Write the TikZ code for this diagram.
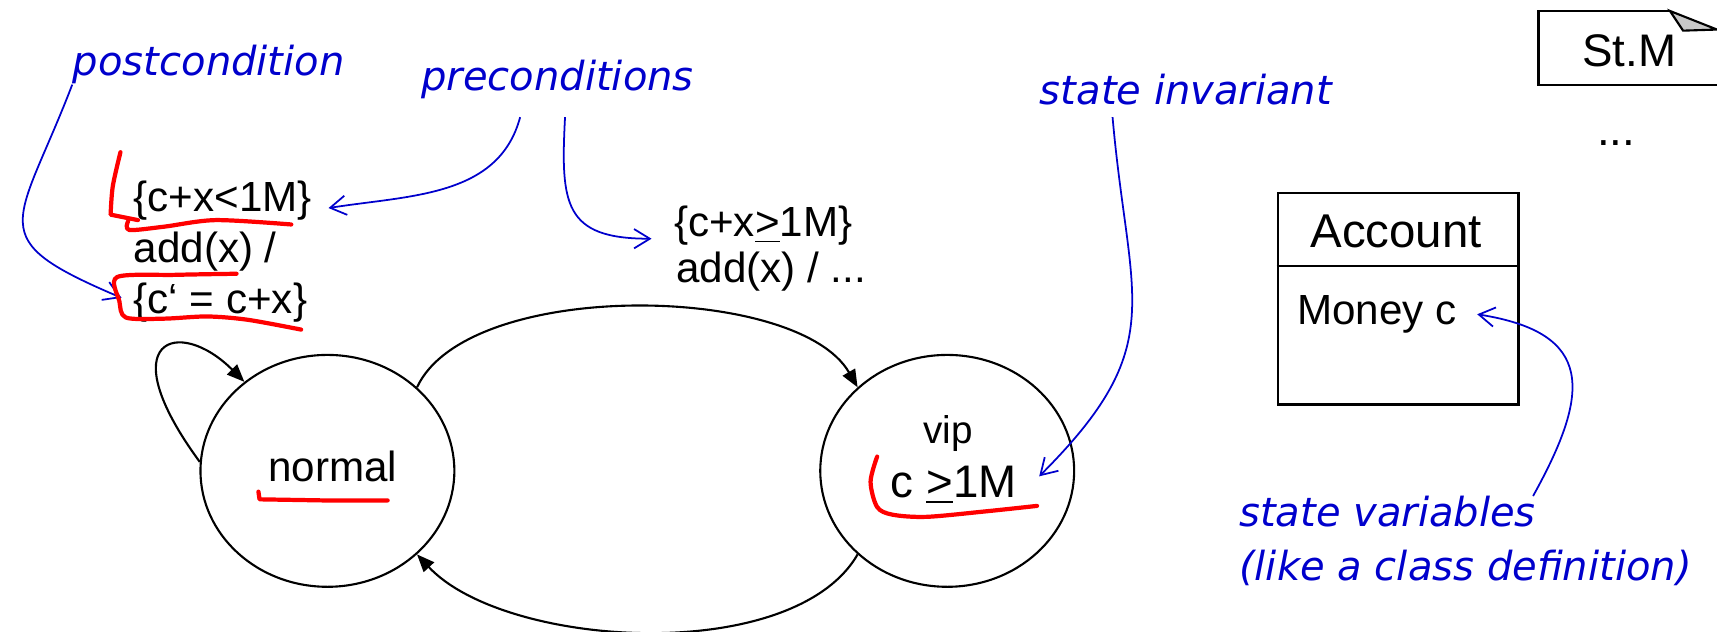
\documentclass[tikz,border=0pt]{standalone}
\usepackage{fontspec}
\setmainfont{Liberation Sans}
\newfontfamily\notefont{DejaVu Sans}
\usetikzlibrary{shapes.geometric, arrows.meta}
\definecolor{note-blue}{RGB}{0,0,204}
\definecolor{mark-red}{RGB}{255,0,0}
\definecolor{fold-gray}{RGB}{200,200,200}

\begin{document}
\begin{tikzpicture}[
  x=0.01095cm, y=0.01095cm,
  state/.style={draw, ellipse, line width=0.6pt, minimum width=2.54cm, minimum height=2.32cm, inner sep=0pt},
  trans/.style={-{Triangle[length=5pt,width=4pt]}, line width=0.6pt},
  txt/.style={inner sep=0pt, font=\fontsize{12}{14}\selectfont},
  note/.style={inner sep=0pt, text=note-blue, font=\notefont\itshape\fontsize{11.4}{15.5}\selectfont},
  pointer/.style={draw=note-blue, line width=0.5pt, -{Straight Barb[length=4.5pt,width=5.5pt]}},
  marker/.style={draw=mark-red, line width=1.2pt, line cap=round, line join=round},
]
  \useasboundingbox (0,0) rectangle (1568,-577);

  % States
  \node[state] (normal) at (299,-430) {};
  \node[state] (vip) at (865,-430) {};
  \node[txt, anchor=base] (normalname) at (304,-440) {normal};
  \node[txt, anchor=base, font=\fontsize{11}{13}\selectfont] (vipname) at (866,-405) {vip};
  \node[txt, anchor=base, font=\fontsize{13}{15}\selectfont] (vipinv) at (871,-454) {c \underline{>}1M};

  % Transitions
  \draw[trans] (normal.176) .. controls +(-83,113) and +(-60,60) .. (normal.133);
  \draw[trans] (normal.43) to[out=65, in=120, looseness=0.7] (vip.137);
  \draw[trans] (vip.223) to[out=-120, in=-47, looseness=0.75] (normal.-43);

  % Transition labels
  \node[txt, anchor=base west] (guard1) at (121.5,-193) {\{c+x<1M\}};
  \node[txt, anchor=base west] (event1) at (121.5,-240) {add(x) /};
  \node[txt, anchor=base west] (effect1) at (121.5,-286) {\{c‘ = c+x\}};
  \node[txt, anchor=base west] (guard2) at (615,-216) {\{c+x\underline{>}1M\}};
  \node[txt, anchor=base west] (event2) at (617,-258) {add(x) / ...};

  % Class and state machine boxes
  \node[draw, line width=0.8pt, minimum width=2.41cm, minimum height=2.12cm, inner sep=0pt] (acct) at (1277,-273) {};
  \coordinate (divide) at (0,-243);
  \draw[line width=0.8pt] (acct.west |- divide) -- (acct.east |- divide);
  \node[txt, anchor=base, font=\fontsize{13.5}{16}\selectfont] (acctname) at (1275,-226) {Account};
  \node[txt, anchor=base west] (acctattr) at (1184,-296.5) {Money c};

  \draw[line width=0.6pt] (1568,-78) -- (1405,-78) -- (1405,-10) -- (1525,-10);
  \filldraw[fill=fold-gray, line width=0.6pt] (1525,-10) -- (1537,-28) -- (1568,-27) -- cycle;
  \node[txt, anchor=base, font=\fontsize{13}{15}\selectfont] (stmname) at (1488,-61) {St.M};
  \node[txt, anchor=base, font=\fontsize{13}{15}\selectfont] (more) at (1476,-133) {...};

  % Notes
  \node[note, anchor=base west] (postlbl) at (66,-69) {postcondition};
  \node[note, anchor=base west] (prelbl) at (384,-83) {preconditions};
  \node[note, anchor=base west] (invlbl) at (949,-95) {state invariant};
  \node[note, anchor=north west, align=left] (varlbl) at (1131,-452) {state variables\\(like a class definition)};

  \coordinate (postto) at (111,-272);
  \coordinate (prefrom1) at (475,-107);
  \coordinate (preto1) at (300,-190);
  \coordinate (prefrom2) at (516,-107);
  \coordinate (preto2) at (595,-218);
  \coordinate (invfrom) at (1016,-107);
  \coordinate (invto) at (949,-435);
  \coordinate (varfrom) at (1400,-453);
  \coordinate (varto) at (1349,-287);

  \draw[pointer] (postlbl.south west) to[out=-111, in=157, looseness=1.8] (postto);
  \draw[pointer] (prefrom1) to[out=-105, in=9] (preto1);
  \draw[pointer] (prefrom2) to[out=-93, in=180, looseness=1.5] (preto2);
  \draw[pointer] (invfrom) to[out=-85, in=45, looseness=1.3] (invto);
  \draw[pointer] (varfrom) to[out=61, in=-9, looseness=1.6] (varto);

  % Red marks
  \draw[marker] plot[smooth] coordinates {(110,-139) (103,-170) (101,-196)} -- (126,-201);
  \draw[marker] plot[smooth] coordinates {(117,-202) (118,-210) (150,-207) (197,-201) (266,-205)};
  \draw[marker] plot[smooth] coordinates {(216,-250) (160,-251) (107,-253) (109,-275) (115,-290) (150,-291) (189,-289) (226,-292) (275,-301)};
  \draw[marker] (236,-449) -- (237,-456) -- (296,-457) -- (354,-457);
  \draw[marker] plot[smooth] coordinates {(801,-417) (795,-440) (801,-463) (815,-470) (846,-472) (900,-467) (947,-462)};
\end{tikzpicture}
\end{document}
